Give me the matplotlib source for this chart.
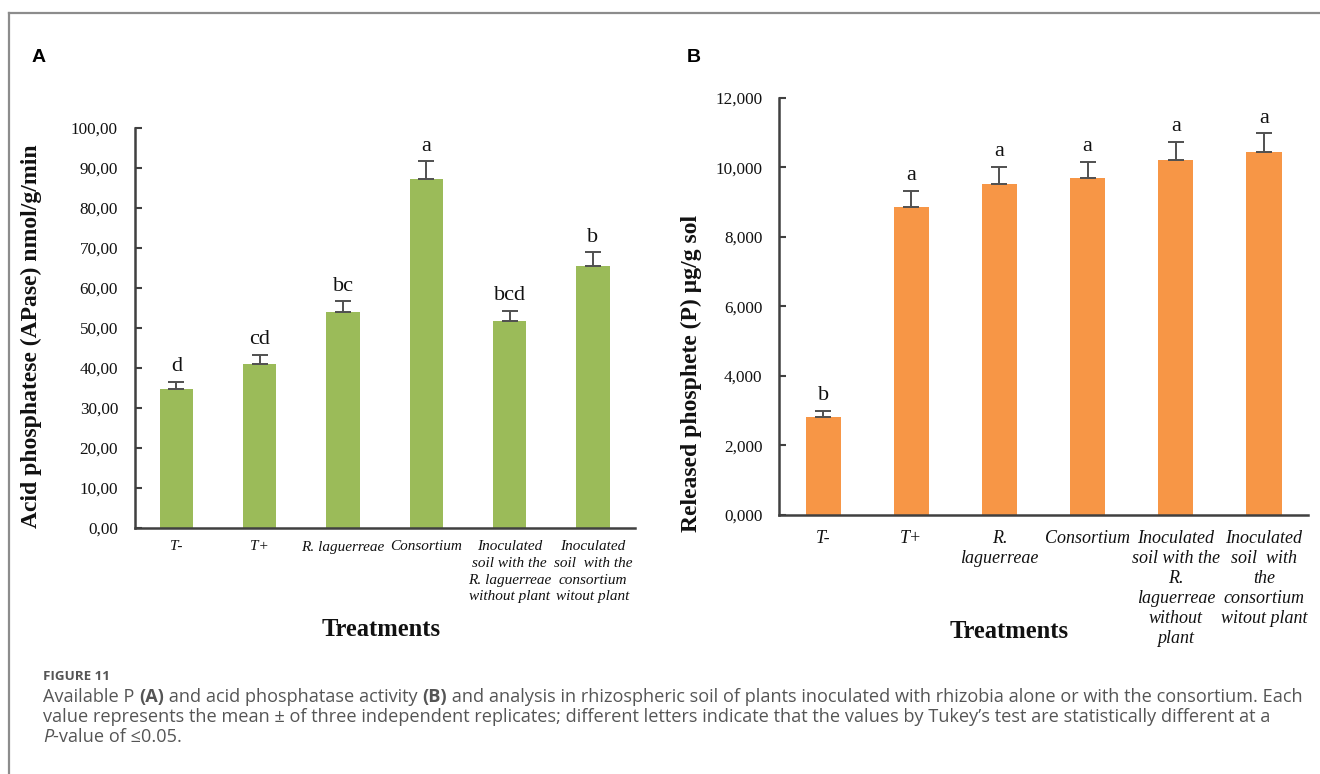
import matplotlib
matplotlib.use("Agg")
import matplotlib.pyplot as plt
from matplotlib.lines import Line2D
from matplotlib.transforms import offset_copy

# ---- data -------------------------------------------------------------
cats_a = ["T-", "T+", "R. laguerreae", "Consortium",
          "Inoculated\nsoil with the\nR. laguerreae\nwithout plant",
          "Inoculated\nsoil  with the\nconsortium\nwitout plant"]
apase = [34.7, 41.1, 53.9, 87.3, 51.7, 65.6]
apase_err = [1.9, 2.2, 2.8, 4.4, 2.6, 3.3]
letters_a = ["d", "cd", "bc", "a", "bcd", "b"]

cats_b = ["T-", "T+", "R.\nlaguerreae", "Consortium",
          "Inoculated\nsoil with the\nR.\nlaguerreae\nwithout\nplant",
          "Inoculated\nsoil  with\nthe\nconsortium\nwitout plant"]
released_p = [2.83, 8.87, 9.53, 9.68, 10.22, 10.45]
released_p_err = [0.16, 0.45, 0.48, 0.48, 0.52, 0.53]
letters_b = ["b", "a", "a", "a", "a", "a"]

yticks_a = [0, 10, 20, 30, 40, 50, 60, 70, 80, 90, 100]
yticks_b = [0, 2, 4, 6, 8, 10, 12]

GREEN = "#9BBB59"
ORANGE = "#F79646"
AXIS = "#404040"
SERIF = "Liberation Serif"

W, H = 1320, 774
fig = plt.figure(figsize=(W / 100, H / 100), dpi=100)


def px_box(left, right, top, bottom):
    return [left / W, 1 - bottom / H, (right - left) / W, (bottom - top) / H]


def bar_panel(ax, cats, vals, errs, letters, color, yticks, fmt,
              ylabel, cat_size, cat_pad, cat_spacing, letter_off):
    x = list(range(len(cats)))
    ax.bar(x, vals, width=0.4, color=color, zorder=2)
    ax.errorbar(x, vals, yerr=[[0] * len(errs), errs], fmt="none",
                ecolor="#505050", elinewidth=1.4, capsize=5.5,
                capthick=1.4, zorder=3)
    for xi, v, e, lt in zip(x, vals, errs, letters):
        ax.annotate(lt, (xi, v + e), xytext=(0, letter_off),
                    textcoords="offset points", ha="center", va="bottom",
                    fontsize=16, family=SERIF, color="#111111")
    ax.set_xlim(-0.5, len(cats) - 0.5)
    ax.set_ylim(yticks[0], yticks[-1])
    ax.set_yticks(yticks)
    ax.set_yticklabels([fmt.format(t).replace(".", ",") for t in yticks],
                       family=SERIF, fontsize=12.3, color="#111111")
    ax.set_xticks(x)
    ax.set_xticklabels(cats, family=SERIF, style="italic",
                       fontsize=cat_size, linespacing=cat_spacing,
                       color="#111111")
    ax.tick_params(axis="x", length=0, pad=cat_pad)
    ax.tick_params(axis="y", direction="in", length=5, width=1.5,
                   color=AXIS, pad=12)
    for s in ("top", "right"):
        ax.spines[s].set_visible(False)
    for s in ("left", "bottom"):
        ax.spines[s].set_color(AXIS)
        ax.spines[s].set_linewidth(1.8)
    ax.set_ylabel(ylabel, family=SERIF, fontweight="bold", fontsize=17,
                  color="#111111")


# Panel A: acid phosphatase activity
ax_a = fig.add_axes(px_box(134.7, 634.7, 128, 528))
bar_panel(ax_a, cats_a, apase, apase_err, letters_a, GREEN, yticks_a,
          "{:.2f}", "Acid phosphatese (APase) nmol/g/min", 11, 9, 1.36, 4)
ax_a.yaxis.set_label_coords(-0.185, 0.48)

# Panel B: released phosphate
ax_b = fig.add_axes(px_box(779.1, 1308, 97.7, 515))
bar_panel(ax_b, cats_b, released_p, released_p_err, letters_b, ORANGE,
          yticks_b, "{:.3f}", "Released phosphete (P) µg/g sol", 13, 11,
          1.22, 4)
ax_b.yaxis.set_label_coords(-0.146, 0.34)

fig.text(381 / W, 1 - 630 / H, "Treatments", family=SERIF,
         fontweight="bold", fontsize=17.7, ha="center", va="center",
         color="#111111")
fig.text(1009 / W, 1 - 632 / H, "Treatments", family=SERIF,
         fontweight="bold", fontsize=17.7, ha="center", va="center",
         color="#111111")

# panel letters
fig.text(38.7 / W, 1 - 57 / H, "A", family="Liberation Sans",
         fontweight="bold", fontsize=14, ha="center", va="center")
fig.text(694 / W, 1 - 57 / H, "B", family="Liberation Sans",
         fontweight="bold", fontsize=14, ha="center", va="center")

# frame around the figure
fig.add_artist(Line2D([9 / W, 1], [1 - 13 / H, 1 - 13 / H],
                      transform=fig.transFigure, color="#8c8c8c", lw=1.6))
fig.add_artist(Line2D([9 / W, 9 / W], [0, 1 - 13 / H],
                      transform=fig.transFigure, color="#8c8c8c", lw=1.6))

# caption
CAP = "Open Sans"
CAP_COLOR = "#555555"
CAP_SIZE = 13.05
fig.text(43 / W, 1 - 677 / H, "FIGURE 11", family=CAP, fontweight="bold",
         fontsize=9.6, color=CAP_COLOR, va="center")

renderer = fig.canvas.get_renderer()


def advance(txt, weight, style, size):
    # width of txt including trailing blanks, measured against a sentinel
    def w(s):
        t = fig.text(0, 0, s, family=CAP, fontweight=weight,
                     fontstyle=style, fontsize=size)
        bb = t.get_window_extent(renderer=renderer)
        t.remove()
        return bb.width
    return w(txt + "|") - w("|")


def rich_line(x_px, y_px, runs, size=CAP_SIZE):
    trans = fig.transFigure
    x_off = 0.0
    for txt, weight, style in runs:
        fig.text(x_px / W, 1 - y_px / H, txt, family=CAP,
                 fontweight=weight, fontstyle=style, fontsize=size,
                 color=CAP_COLOR, va="center",
                 transform=offset_copy(trans, fig=fig, x=x_off,
                                       units="dots"))
        x_off += advance(txt, weight, style, size)


rich_line(43, 697, [
    ("Available P ", "normal", "normal"),
    ("(A)", "bold", "normal"),
    (" and acid phosphatase activity ", "normal", "normal"),
    ("(B)", "bold", "normal"),
    (" and analysis in rhizospheric soil of plants inoculated with rhizobia "
     "alone or with the consortium. Each", "normal", "normal"),
])
rich_line(43, 717, [
    ("value represents the mean \u00b1 of three independent replicates; "
     "different letters indicate that the values by Tukey\u2019s test are "
     "statistically different at a", "normal", "normal"),
])
rich_line(43, 737, [
    ("P", "normal", "italic"),
    ("-value of \u22640.05.", "normal", "normal"),
])

fig.savefig("out.png", dpi=100, facecolor="white")
